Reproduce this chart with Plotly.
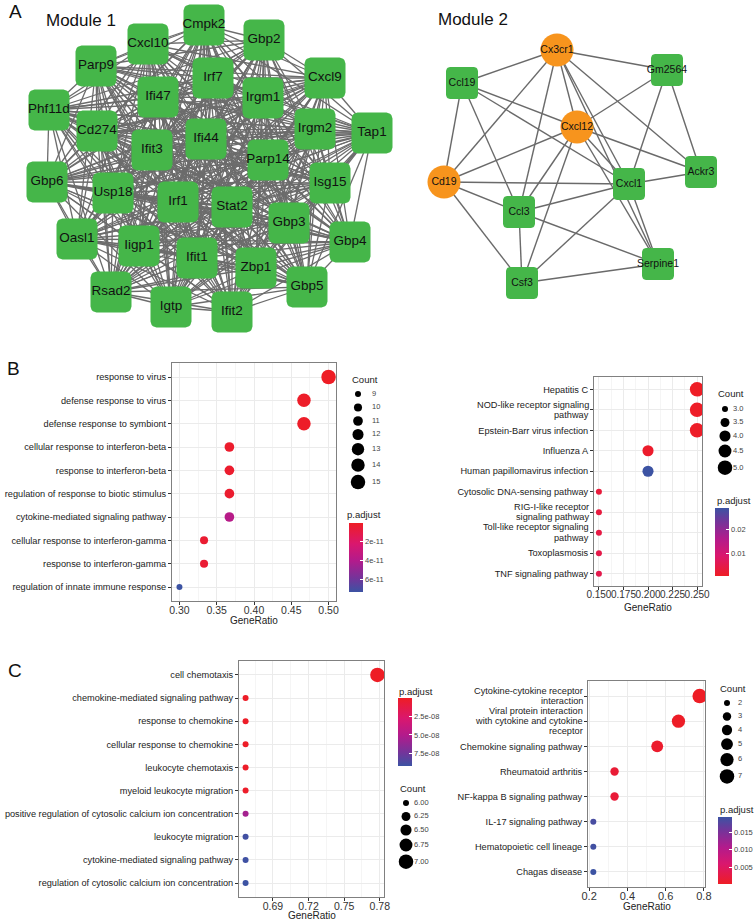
import itertools
import math
import plotly.graph_objects as go

W, H = 755, 920
FONT = "Liberation Sans, Arial, Helvetica, sans-serif"
YFS = 9.2  # category label font size

# ---------------- Network data (Module 1) ----------------
m1_genes = ["Cmpk2", "Gbp2", "Cxcl10", "Parp9", "Irf7", "Cxcl9", "Ifi47", "Irgm1", "Phf11d", "Cd274",
            "Ifi44", "Irgm2", "Tap1", "Ifit3", "Parp14", "Gbp6", "Usp18", "Isg15", "Irf1", "Stat2",
            "Gbp3", "Oasl1", "Gbp4", "Iigp1", "Ifit1", "Zbp1", "Rsad2", "Gbp5", "Igtp", "Ifit2"]
m1_x = [204, 264, 148, 96, 213, 325, 158, 263, 49, 97,
        206, 315, 372, 152, 268, 47, 113, 330, 178, 232,
        289, 77, 350, 139, 197, 256, 111, 307, 171, 232]
m1_y = [25, 40, 44, 66, 78, 78, 97, 98, 110, 131,
        139, 129, 133, 150, 160, 182, 193, 183, 202, 207,
        223, 239, 242, 246, 258, 268, 292, 287, 307, 312]

# ---------------- Network data (Module 2) ----------------
m2_genes = ["Cx3cr1", "Ccl19", "Gm2564", "Cxcl12", "Cd19", "Cxcl1", "Ackr3", "Ccl3", "Csf3", "Serpine1"]
m2_x = [557, 462, 667, 577, 444, 629, 701, 519, 522, 658]
m2_y = [50, 83, 70, 127, 182, 184, 172, 212, 283, 264]
m2_hub = [1, 0, 0, 1, 1, 0, 0, 0, 0, 0]
m2_edges = [("Cx3cr1", "Ccl19"), ("Cx3cr1", "Gm2564"), ("Cx3cr1", "Cd19"), ("Cx3cr1", "Ccl3"),
            ("Cx3cr1", "Cxcl12"), ("Cx3cr1", "Cxcl1"), ("Cx3cr1", "Ackr3"), ("Cx3cr1", "Serpine1"),
            ("Ccl19", "Cd19"), ("Ccl19", "Ccl3"), ("Ccl19", "Cxcl12"), ("Ccl19", "Cxcl1"),
            ("Gm2564", "Cxcl12"), ("Gm2564", "Cxcl1"), ("Gm2564", "Ackr3"),
            ("Cxcl12", "Cd19"), ("Cxcl12", "Ccl3"), ("Cxcl12", "Csf3"), ("Cxcl12", "Cxcl1"),
            ("Cxcl12", "Ackr3"), ("Cxcl12", "Serpine1"),
            ("Cd19", "Cxcl1"), ("Cd19", "Ccl3"), ("Cd19", "Csf3"),
            ("Cxcl1", "Ccl3"), ("Cxcl1", "Ackr3"), ("Cxcl1", "Csf3"), ("Cxcl1", "Serpine1"),
            ("Ccl3", "Csf3"), ("Ccl3", "Serpine1"), ("Csf3", "Serpine1")]

# ---------------- Panel B left (GO) ----------------
bl_terms = ["response to virus", "defense response to virus", "defense response to symbiont",
            "cellular response to interferon-beta", "response to interferon-beta",
            "regulation of response to biotic stimulus", "cytokine-mediated signaling pathway",
            "cellular response to interferon-gamma", "response to interferon-gamma",
            "regulation of innate immune response"]
bl_ratio = [0.500, 0.467, 0.467, 0.367, 0.367, 0.367, 0.367, 0.333, 0.333, 0.300]
bl_count = [15, 14, 14, 11, 11, 11, 11, 10, 10, 9]
bl_padj = [1.0e-13, 1.2e-12, 1.4e-12, 2.5e-12, 2.8e-12, 3.2e-12, 3.8e-11, 4.0e-12, 4.5e-12, 7.3e-11]
bl_count_levels = [9, 10, 11, 12, 13, 14, 15]
bl_padj_ticks = [2e-11, 4e-11, 6e-11]

# ---------------- Panel B right (KEGG) ----------------
br_terms = ["Hepatitis C", "NOD-like receptor signaling<br>pathway", "Epstein-Barr virus infection",
            "Influenza A", "Human papillomavirus infection", "Cytosolic DNA-sensing pathway",
            "RIG-I-like receptor<br>signaling pathway", "Toll-like receptor signaling<br>pathway",
            "Toxoplasmosis", "TNF signaling pathway"]
br_ratio = [0.25, 0.25, 0.25, 0.20, 0.20, 0.15, 0.15, 0.15, 0.15, 0.15]
br_count = [5, 5, 5, 4, 4, 3, 3, 3, 3, 3]
br_padj = [0.0004, 0.0006, 0.0008, 0.0012, 0.0288, 0.0030, 0.0034, 0.0040, 0.0046, 0.0050]
br_count_levels = [3.0, 3.5, 4.0, 4.5, 5.0]
br_padj_ticks = [0.01, 0.02]

# ---------------- Panel C left (GO) ----------------
cl_terms = ["cell chemotaxis", "chemokine-mediated signaling pathway", "response to chemokine",
            "cellular response to chemokine", "leukocyte chemotaxis", "myeloid leukocyte migration",
            "positive regulation of cytosolic calcium ion concentration", "leukocyte migration",
            "cytokine-mediated signaling pathway", "regulation of cytosolic calcium ion concentration"]
cl_ratio = [0.778, 0.667, 0.667, 0.667, 0.667, 0.667, 0.667, 0.667, 0.667, 0.667]
cl_count = [7, 6, 6, 6, 6, 6, 6, 6, 6, 6]
cl_padj = [1.5e-10, 1.0e-09, 1.1e-09, 1.3e-09, 1.6e-09, 2.2e-09, 5.6e-08, 9.0e-08, 9.1e-08, 9.2e-08]
cl_count_levels = [6.00, 6.25, 6.50, 6.75, 7.00]
cl_padj_ticks = [2.5e-08, 5.0e-08, 7.5e-08]

# ---------------- Panel C right (KEGG) ----------------
cr_terms = ["Cytokine-cytokine receptor<br>interaction",
            "Viral protein interaction<br>with cytokine and cytokine<br>receptor",
            "Chemokine signaling pathway", "Rheumatoid arthritis", "NF-kappa B signaling pathway",
            "IL-17 signaling pathway", "Hematopoietic cell lineage", "Chagas disease"]
cr_ratio = [0.778, 0.667, 0.556, 0.333, 0.333, 0.222, 0.222, 0.222]
cr_count = [7, 6, 5, 3, 3, 2, 2, 2]
cr_padj = [0.00014, 0.0003, 0.0008, 0.0015, 0.0016, 0.0185, 0.0189, 0.0193]
cr_count_levels = [2, 3, 4, 5, 6, 7]
cr_padj_ticks = [0.005, 0.010, 0.015]

# ---------------- styles ----------------
RED, BLUE = "#EE1D25", "#3C53A3"
CS = [[0.0, RED], [0.3, "#DA176E"], [0.55, "#B21B8C"], [0.8, "#74349A"], [1.0, BLUE]]
CS_REV = [[1 - s, c] for s, c in reversed(CS)]
GREEN, ORANGE = "#45B649", "#F7941D"

fig = go.Figure()

layout = dict(
    width=W, height=H, margin=dict(l=0, r=0, t=0, b=0, autoexpand=False),
    paper_bgcolor="white", plot_bgcolor="rgba(0,0,0,0)", showlegend=False,
    font=dict(family=FONT, color="#222"),
    xaxis=dict(domain=[0, 1], range=[0, W], visible=False, fixedrange=True),
    yaxis=dict(domain=[0, 1], range=[H, 0], visible=False, fixedrange=True),
)


def rounded_outline(xs, ys, half, r, steps=5):
    """Rounded-square outlines around node centres (None-separated) for a filled scatter."""
    px, py = [], []
    corners = [(1, 1, 0), (-1, 1, 90), (-1, -1, 180), (1, -1, 270)]
    for cx, cy in zip(xs, ys):
        for sx, sy, a0 in corners:
            ccx, ccy = cx + sx * (half - r), cy + sy * (half - r)
            for s in range(steps + 1):
                ang = math.radians(a0 + 90 * s / steps)
                px.append(ccx + r * math.cos(ang))
                py.append(ccy + r * math.sin(ang))
        px.append(px[-4 * (steps + 1)])
        py.append(py[-4 * (steps + 1)])
        px.append(None)
        py.append(None)
    return px, py


# ---- Module 1 network ----
ex, ey = [], []
for i, j in itertools.combinations(range(len(m1_genes)), 2):
    ex += [m1_x[i], m1_x[j], None]
    ey += [m1_y[i], m1_y[j], None]
fig.add_trace(go.Scatter(x=ex, y=ey, mode="lines", line=dict(color="#6C6C6C", width=1.3),
                         hoverinfo="skip", xaxis="x", yaxis="y"))
nx, ny = rounded_outline(m1_x, m1_y, 20.5, 6)
fig.add_trace(go.Scatter(x=nx, y=ny, mode="lines", fill="toself", fillcolor=GREEN,
                         line=dict(width=0, color=GREEN), hoverinfo="skip", xaxis="x", yaxis="y"))
fig.add_trace(go.Scatter(x=m1_x, y=m1_y, mode="text", text=m1_genes,
                         textposition="middle center", textfont=dict(size=13.5, color="#111", family=FONT),
                         hoverinfo="text", xaxis="x", yaxis="y", cliponaxis=False))

# ---- Module 2 network ----
idx = {g: k for k, g in enumerate(m2_genes)}
ex, ey = [], []
for a, b in m2_edges:
    ex += [m2_x[idx[a]], m2_x[idx[b]], None]
    ey += [m2_y[idx[a]], m2_y[idx[b]], None]
fig.add_trace(go.Scatter(x=ex, y=ey, mode="lines", line=dict(color="#6A6A6A", width=1.4),
                         hoverinfo="skip", xaxis="x", yaxis="y"))
sq_x = [x for x, h in zip(m2_x, m2_hub) if not h]
sq_y = [y for y, h in zip(m2_y, m2_hub) if not h]
nx, ny = rounded_outline(sq_x, sq_y, 16, 4)
fig.add_trace(go.Scatter(x=nx, y=ny, mode="lines", fill="toself", fillcolor=GREEN,
                         line=dict(width=0, color=GREEN), hoverinfo="skip", xaxis="x", yaxis="y"))
fig.add_trace(go.Scatter(
    x=[x for x, h in zip(m2_x, m2_hub) if h], y=[y for y, h in zip(m2_y, m2_hub) if h],
    mode="markers", marker=dict(symbol="circle", size=33, color=ORANGE, opacity=1, line=dict(width=0)),
    hoverinfo="skip", xaxis="x", yaxis="y", cliponaxis=False))
fig.add_trace(go.Scatter(
    x=m2_x, y=m2_y, mode="text", text=m2_genes, textposition="middle center",
    textfont=dict(size=10.5, color="#111", family=FONT),
    hoverinfo="text", xaxis="x", yaxis="y", cliponaxis=False))

annotations = [
    dict(x=15, y=11, text="A", font=dict(size=19, color="#111")),
    dict(x=13, y=368, text="B", font=dict(size=19, color="#111")),
    dict(x=15, y=670, text="C", font=dict(size=19, color="#111")),
    dict(x=81, y=20, text="Module 1", font=dict(size=17, color="#111")),
    dict(x=473, y=19, text="Module 2", font=dict(size=17, color="#111")),
]
label_annots = []


def dsize(c, lo, hi, d0=6.0, d1=14.5):
    t = (c - lo) / (hi - lo)
    return math.sqrt(d0 ** 2 + (d1 ** 2 - d0 ** 2) * t)


panels = [
    dict(terms=bl_terms, ratio=bl_ratio, count=bl_count, padj=bl_padj, levels=bl_count_levels,
         pticks=bl_padj_ticks, pfmt=lambda v: f"{v:.0e}", lfmt=lambda v: f"{v:d}", rev=True,
         dom=(172, 336, 363, 601), tick0=0.30, dtick=0.05, xfmt=".2f", xfs=10.5, xt=(254, 620),
         lsp=10.5, cb=(349, 523, 69), ptitle=(345, 514), ctitle=(350, 379), leg=(358, 372, 394)),
    dict(terms=br_terms, ratio=br_ratio, count=br_count, padj=br_padj, levels=br_count_levels,
         pticks=br_padj_ticks, pfmt=lambda v: f"{v:.2f}", lfmt=lambda v: f"{v:.1f}", rev=False,
         dom=(594, 702, 377, 586), tick0=0.150, dtick=0.025, xfmt=".3f", xfs=10, xt=(648, 607),
         lsp=10.5, cb=(715, 508, 68), ptitle=(715, 500), ctitle=(716, 393), leg=(725, 733, 409)),
    dict(terms=cl_terms, ratio=cl_ratio, count=cl_count, padj=cl_padj, levels=cl_count_levels,
         pticks=cl_padj_ticks, pfmt=lambda v: f"{v:.1e}", lfmt=lambda v: f"{v:.2f}", rev=True,
         dom=(239, 384, 661, 897), tick0=0.69, dtick=0.03, xfmt=".2f", xfs=10.5, xt=(312, 915),
         lsp=10.5, cb=(398, 698, 68), ptitle=(397, 691), ctitle=(398, 788), leg=(406, 414, 803)),
    dict(terms=cr_terms, ratio=cr_ratio, count=cr_count, padj=cr_padj, levels=cr_count_levels,
         pticks=cr_padj_ticks, pfmt=lambda v: f"{v:.3f}", lfmt=lambda v: f"{v:d}", rev=False,
         dom=(588, 705, 681, 887), tick0=0.2, dtick=0.2, xfmt=".1f", xfs=11, xt=(647, 906),
         lsp=10.2, cb=(718, 817, 67), ptitle=(718, 809), ctitle=(718, 688), leg=(727, 738, 703)),
]

for k, p in enumerate(panels):
    n = k + 2
    x0, x1, y0, y1 = p["dom"]
    nt = len(p["terms"])
    yv = [nt - i for i in range(nt)]
    lo_r, hi_r = min(p["ratio"]), max(p["ratio"])
    span = hi_r - lo_r
    lo_c, hi_c = min(p["levels"]), max(p["levels"])
    sizes = [dsize(c, lo_c, hi_c) for c in p["count"]]
    pmin, pmax = min(p["padj"]), max(p["padj"])
    if p["rev"]:
        cvals = [-v for v in p["padj"]]
        cmin, cmax, cs = -pmax, -pmin, CS_REV
        tv = [-t for t in p["pticks"]]
    else:
        cvals = list(p["padj"])
        cmin, cmax, cs = pmin, pmax, CS
        tv = list(p["pticks"])
    cbx, cby, cbl = p["cb"]
    fig.add_trace(go.Scatter(
        x=p["ratio"], y=yv, mode="markers", xaxis=f"x{n}", yaxis=f"y{n}",
        marker=dict(size=sizes, color=cvals, colorscale=cs, cmin=cmin, cmax=cmax, opacity=1,
                    line=dict(width=0), showscale=True,
                    colorbar=dict(x=cbx / W, xanchor="left", y=1 - cby / H, yanchor="top",
                                  len=cbl, lenmode="pixels", thickness=14, thicknessmode="pixels",
                                  xpad=0, ypad=0, outlinewidth=0, tickmode="array", tickvals=tv,
                                  ticktext=[p["pfmt"](t) for t in p["pticks"]], ticks="inside",
                                  ticklen=3, tickcolor="white",
                                  tickfont=dict(size=7.5, color="#444", family=FONT))),
        hovertext=[t.replace("<br>", " ") for t in p["terms"]], hoverinfo="text+x"))

    # single-line labels as tick text; wrapped labels set line by line with tight leading
    ticktext = []
    for t, yy in zip(p["terms"], yv):
        lines = t.split("<br>")
        if len(lines) == 1:
            ticktext.append(t)
            continue
        ticktext.append("")
        for li, line in enumerate(lines):
            off = (li - (len(lines) - 1) / 2) * p["lsp"]
            label_annots.append(dict(x=(x0 - 4) / W, xref="paper", y=yy, yref=f"y{n}",
                                     yshift=-off, text=line, xanchor="right", yanchor="middle",
                                     showarrow=False, borderpad=0,
                                     font=dict(size=YFS, color="#222", family=FONT)))

    layout[f"xaxis{n}"] = dict(
        domain=[x0 / W, x1 / W], anchor=f"y{n}", range=[lo_r - 0.05 * span, hi_r + 0.05 * span],
        tickmode="linear", tick0=p["tick0"], dtick=p["dtick"], tickformat=p["xfmt"], tickangle=0,
        showgrid=True, gridcolor="#EBEBEB", gridwidth=1,
        minor=dict(tick0=p["tick0"], dtick=p["dtick"] / 2, showgrid=True, gridcolor="#F5F5F5",
                   gridwidth=0.6),
        showline=True, mirror=True, linecolor="#808080", linewidth=1, ticks="outside", ticklen=3,
        ticklabelstandoff=-4,
        tickcolor="#333", tickfont=dict(size=p["xfs"], color="#333"), zeroline=False, fixedrange=True)
    layout[f"yaxis{n}"] = dict(
        domain=[1 - y1 / H, 1 - y0 / H], anchor=f"x{n}", range=[0.4, nt + 0.6],
        tickmode="array", tickvals=yv, ticktext=ticktext, showgrid=True, gridcolor="#EBEBEB",
        gridwidth=1, showline=True, mirror=True, linecolor="#808080", linewidth=1,
        ticks="outside", ticklen=3, tickcolor="#333", tickfont=dict(size=YFS, color="#222"),
        zeroline=False, fixedrange=True)
    annotations.append(dict(x=p["xt"][0], y=p["xt"][1], text="GeneRatio",
                            font=dict(size=10, color="#222")))

    # Count legend (size key) in pixel overlay
    dx, lx, ly0 = p["leg"]
    ds = [dsize(c, lo_c, hi_c) for c in p["levels"]]
    ys = [ly0]
    for a in range(1, len(ds)):
        ys.append(ys[-1] + max(13.5, (ds[a - 1] + ds[a]) / 2 + 3))
    fig.add_trace(go.Scatter(x=[dx] * len(ds), y=ys, mode="markers", xaxis="x", yaxis="y",
                             marker=dict(size=ds, color="black", opacity=1, line=dict(width=0)),
                             hoverinfo="skip", cliponaxis=False))
    fig.add_trace(go.Scatter(x=[lx] * len(ds), y=ys, mode="text", xaxis="x", yaxis="y",
                             text=[p["lfmt"](v) for v in p["levels"]], textposition="middle right",
                             textfont=dict(size=7.5, color="#444", family=FONT),
                             hoverinfo="skip", cliponaxis=False))
    annotations.append(dict(x=p["ctitle"][0], y=p["ctitle"][1], text="Count", xanchor="left",
                            font=dict(size=9.5, color="#222")))
    annotations.append(dict(x=p["ptitle"][0], y=p["ptitle"][1], text="p.adjust", xanchor="left",
                            font=dict(size=9.5, color="#222")))

for a in annotations:
    a.setdefault("xanchor", "center")
    a.update(xref="x", yref="y", showarrow=False, yanchor="middle")
layout["annotations"] = annotations + label_annots

fig.update_layout(**layout)
fig.write_html("out.html", config={"displayModeBar": False})

# remove the browser's default body margin so the figure sits at the page origin
with open("out.html", encoding="utf-8") as fh:
    html = fh.read()
html = html.replace("<body>", '<body style="margin:0;padding:0;overflow:hidden">', 1)
with open("out.html", "w", encoding="utf-8") as fh:
    fh.write(html)
